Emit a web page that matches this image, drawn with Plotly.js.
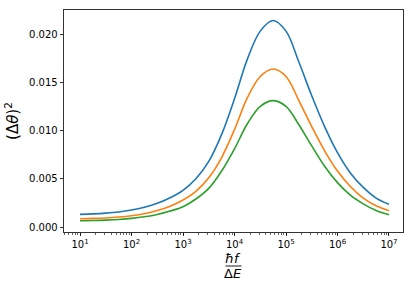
<!DOCTYPE html>
<html>
<head>
<meta charset="utf-8">
<script src="https://cdn.plot.ly/plotly-3.0.1.min.js"></script>
<style>html,body{margin:0;padding:0;background:#fff;}#chart{width:415px;height:287px;}</style>
</head>
<body>
<div id="chart"></div>
<script>
// log10 of hbar*f/DeltaE sample positions
const logX = [1.0, 1.25, 1.5, 1.75, 2.0, 2.25, 2.5, 2.75, 3.0, 3.25, 3.5, 3.75, 4.0, 4.25, 4.5, 4.75, 5.0, 5.25, 5.5, 5.75, 6.0, 6.25, 6.5, 6.75, 7.0];
const blue = [0.00131, 0.00136, 0.00144, 0.00156, 0.00176, 0.00205, 0.00245, 0.00303, 0.0038, 0.0050, 0.0068, 0.0096, 0.0133, 0.0174, 0.0203, 0.0214, 0.0203, 0.0171, 0.0136, 0.0104, 0.0077, 0.0056, 0.0041, 0.0030, 0.00235];
const orange = [0.00086, 0.00089, 0.00094, 0.00103, 0.00117, 0.00138, 0.00170, 0.00215, 0.0028, 0.0037, 0.0051, 0.0072, 0.0101, 0.0134, 0.0156, 0.01637, 0.0156, 0.0131, 0.0104, 0.0079, 0.0058, 0.0042, 0.0030, 0.0022, 0.00169];
const green = [0.00065, 0.00067, 0.00071, 0.00078, 0.00089, 0.00106, 0.00130, 0.00165, 0.0021, 0.0029, 0.0040, 0.0058, 0.0081, 0.0107, 0.0125, 0.0131, 0.0125, 0.0106, 0.0084, 0.0063, 0.0046, 0.0033, 0.0024, 0.0017, 0.00127];
const xTickVals = [1e1, 1e2, 1e3, 1e4, 1e5, 1e6, 1e7];
const xTickText = ['10<sup>1</sup>', '10<sup>2</sup>', '10<sup>3</sup>', '10<sup>4</sup>', '10<sup>5</sup>', '10<sup>6</sup>', '10<sup>7</sup>'];
const yTickVals = [0, 0.005, 0.010, 0.015, 0.020];
const yTickText = ['0.000', '0.005', '0.010', '0.015', '0.020'];

const xs = logX.map(v => Math.pow(10, v));
const mk = (y, c) => ({x: xs, y: y, type: 'scatter', mode: 'lines', line: {color: c, width: 1.6, shape: 'spline', smoothing: 1}, hoverinfo: 'none'});
const data = [mk(blue, '#1f77b4'), mk(orange, '#ff7f0e'), mk(green, '#2ca02c')];

const font = {family: 'DejaVu Sans, sans-serif', size: 10, color: '#000'};
const layout = {
  width: 415, height: 287,
  margin: {l: 64, r: 12, t: 10, b: 55},
  paper_bgcolor: '#fff', plot_bgcolor: '#fff',
  showlegend: false,
  font: font,
  xaxis: {
    type: 'log', range: [0.689, 7.272],
    tickmode: 'array', tickvals: xTickVals, ticktext: xTickText,
    ticks: 'outside', ticklen: 3.5, tickwidth: 0.8, tickcolor: '#000',
    showline: true, linecolor: '#000', linewidth: 0.8, mirror: true,
    showgrid: false, zeroline: false,
    tickfont: font,
    minor: {ticks: 'outside', ticklen: 2, tickwidth: 0.6, tickcolor: '#000', dtick: 'D1', showgrid: false}
  },
  yaxis: {
    range: [-0.000518, 0.02249],
    tickmode: 'array', tickvals: yTickVals, ticktext: yTickText,
    ticks: 'outside', ticklen: 3.5, tickwidth: 0.8, tickcolor: '#000',
    showline: true, linecolor: '#000', linewidth: 0.8, mirror: true,
    showgrid: false, zeroline: false,
    tickfont: font,
    title: {text: '(Δ<i>θ</i>)<sup>2</sup>', font: {family: 'DejaVu Sans, sans-serif', size: 15, color: '#000'}, standoff: 6}
  },
  annotations: [
    {xref: 'paper', yref: 'paper', x: (233 - 64) / 339, y: -(258 - 232) / 222, text: '<i>ħf</i>', showarrow: false, xanchor: 'center', yanchor: 'middle', font: {family: 'DejaVu Sans, sans-serif', size: 13, color: '#000'}},
    {xref: 'paper', yref: 'paper', x: (233 - 64) / 339, y: -(273 - 232) / 222, text: 'Δ<i>E</i>', showarrow: false, xanchor: 'center', yanchor: 'middle', font: {family: 'DejaVu Sans, sans-serif', size: 13, color: '#000'}}
  ],
  shapes: [
    {type: 'line', xref: 'paper', yref: 'paper', x0: (225.5 - 64) / 339, x1: (241.5 - 64) / 339, y0: -(266 - 232) / 222, y1: -(266 - 232) / 222, line: {color: '#000', width: 0.9}}
  ]
};
Plotly.newPlot('chart', data, layout, {staticPlot: true, displayModeBar: false});
</script>
</body>
</html>
